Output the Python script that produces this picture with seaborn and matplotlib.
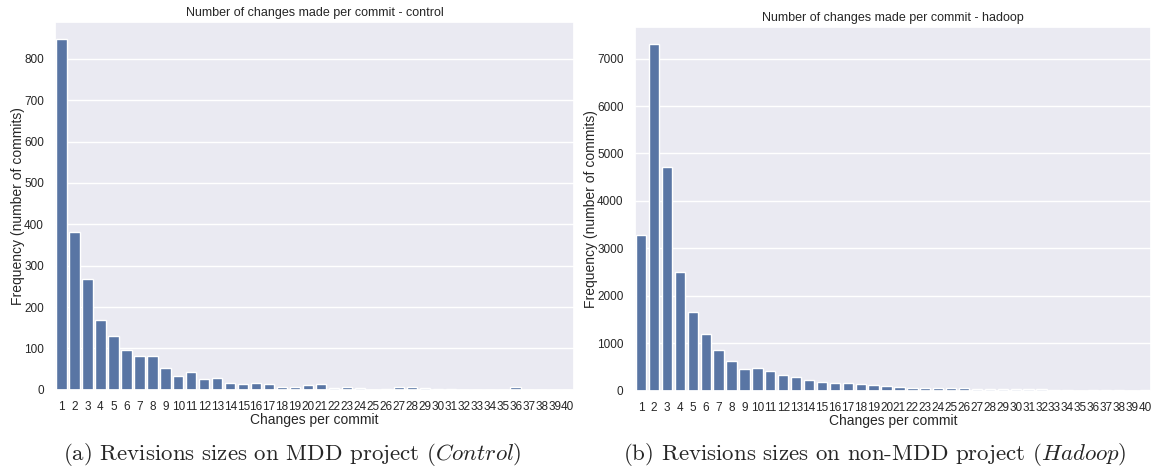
import matplotlib
matplotlib.use("Agg")
import matplotlib.pyplot as plt
import seaborn as sns
import pandas as pd

changes = list(range(1, 41))
control_counts = [847, 381, 268, 169, 130, 96, 81, 82, 53, 34,
                  42, 26, 28, 17, 13, 17, 14, 7, 7, 11,
                  13, 4, 8, 4, 0.5, 1.5, 7, 7, 5, 1,
                  1.5, 0.5, 0.5, 0.5, 0.5, 6, 0.5, 0.3, 0.3, 0.3]
hadoop_counts = [3275, 7307, 4720, 2503, 1665, 1206, 850, 635, 465, 485,
                 420, 330, 280, 222, 195, 166, 166, 138, 124, 102,
                 88, 60, 60, 60, 55, 60, 40, 40, 28, 28,
                 28, 40, 8, 20, 5, 12, 20, 20, 5, 6]

titles = ["Number of changes made per commit - control",
          "Number of changes made per commit - hadoop"]
captions = [r"(a) Revisions sizes on MDD project ($Control$)",
            r"(b) Revisions sizes on non-MDD project ($Hadoop$)"]

sns.set_theme(style="darkgrid")
plt.rcParams['font.family'] = ['Liberation Sans', 'DejaVu Sans']
plt.rcParams['mathtext.fontset'] = 'cm'

fig = plt.figure(figsize=(11.56, 4.68), dpi=100)
ax1 = fig.add_axes([0.0476, 0.167, 0.449, 0.786])
ax2 = fig.add_axes([0.549, 0.165, 0.447, 0.778])

for ax, counts, title in [(ax1, control_counts, titles[0]), (ax2, hadoop_counts, titles[1])]:
    df = pd.DataFrame({"changes": [str(c) for c in changes], "count": counts})
    sns.barplot(data=df, x="changes", y="count", ax=ax, color=sns.color_palette()[0])
    ax.set_title(title, fontsize=9, pad=4)
    ax.set_xlabel("Changes per commit", fontsize=10, labelpad=0)
    ax.set_ylabel("Frequency (number of commits)", fontsize=10, labelpad=-1)
    ax.tick_params(axis='y', labelsize=8.5, pad=2)
    ax.tick_params(axis='x', labelsize=8.5, pad=2)

ax1.set_ylim(0, 889)
ax2.set_ylim(0, 7672)

for xc, cap in [(0.253, captions[0]), (0.757, captions[1])]:
    fig.text(xc, 0.028, cap, ha='center', va='center', fontsize=16.5, family='cmr10')

fig.savefig("out.png", dpi=100, facecolor='white')
